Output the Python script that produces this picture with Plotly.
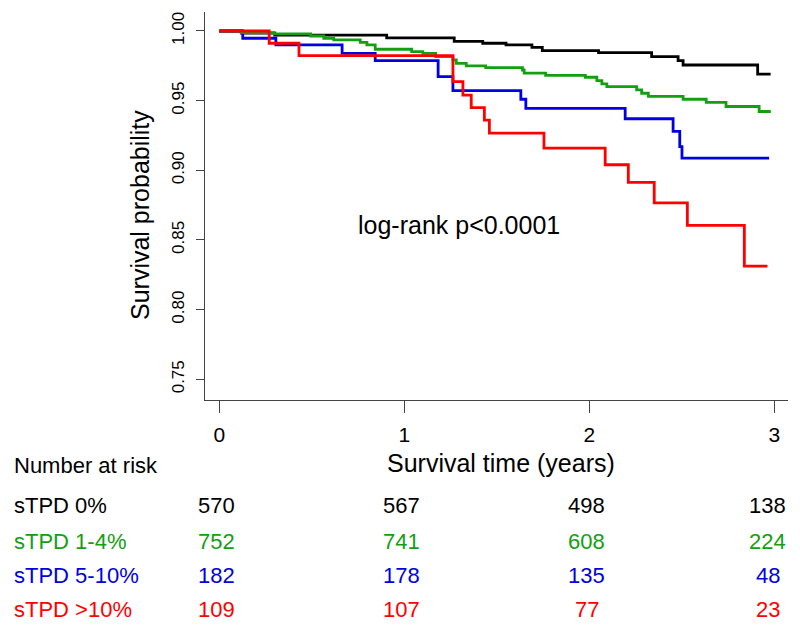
import plotly.graph_objects as go

# ---- data ----
groups = ["sTPD 0%", "sTPD 1-4%", "sTPD 5-10%", "sTPD >10%"]
colors = ["#000000", "#12a012", "#0000e0", "#ff0000"]

t_0 = [0, 0.12, 0.30, 0.905, 1.27, 1.424, 1.55, 1.69, 1.746, 2.05, 2.337, 2.48, 2.507, 2.91, 2.98]
s_0 = [1.0, 0.9985, 0.997, 0.995, 0.9925, 0.9912, 0.990, 0.9883, 0.9859, 0.9845, 0.9816, 0.9787, 0.9756, 0.969, 0.969]

t_1 = [0, 0.118, 0.297, 0.494, 0.565, 0.619, 0.762, 0.798, 0.843, 1.04, 1.10, 1.17, 1.263, 1.281, 1.335,
       1.44, 1.639, 1.648, 1.764, 1.979, 2.041, 2.068, 2.095, 2.256, 2.283, 2.319, 2.507, 2.632, 2.739, 2.918, 2.981]
s_1 = [1.0, 0.9988, 0.9979, 0.9964, 0.9948, 0.9936, 0.9919, 0.990, 0.9869, 0.9852, 0.984, 0.9816, 0.9792, 0.9768, 0.9749,
       0.9737, 0.972, 0.9697, 0.9682, 0.9668, 0.9644, 0.962, 0.960, 0.9577, 0.9553, 0.953, 0.951, 0.9487, 0.9458, 0.9422, 0.9422]

t_2 = [0, 0.127, 0.306, 0.664, 0.843, 1.183, 1.263, 1.63, 1.657, 2.194, 2.453, 2.489, 2.501, 2.972]
s_2 = [1.0, 0.9948, 0.990, 0.984, 0.9787, 0.9673, 0.9572, 0.951, 0.9444, 0.937, 0.9279, 0.917, 0.9088, 0.9088]

t_3 = [0, 0.27, 0.431, 1.263, 1.317, 1.362, 1.433, 1.46, 1.755, 2.086, 2.211, 2.351, 2.53, 2.838, 2.963]
s_3 = [1.0, 0.9912, 0.9823, 0.9637, 0.954, 0.945, 0.936, 0.9267, 0.916, 0.904, 0.8913, 0.8766, 0.8605, 0.8312, 0.8312]

risk_times = [0, 1, 2, 3]
risk_0 = [570, 567, 498, 138]
risk_1 = [752, 741, 608, 224]
risk_2 = [182, 178, 135, 48]
risk_3 = [109, 107, 77, 23]

x_ticks = [0, 1, 2, 3]
y_ticks = [0.75, 0.80, 0.85, 0.90, 0.95, 1.00]
y_ticktext = ["0.75", "0.80", "0.85", "0.90", "0.95", "1.00"]

# ---- figure ----
W, H = 800, 632
L, R, T, B = 205, 12, 12, 232
plot_w = W - L - R
plot_h = H - T - B
FONT = "Liberation Sans, Arial, sans-serif"

fig = go.Figure()
curves = [(t_0, s_0), (t_2, s_2), (t_1, s_1), (t_3, s_3)]
order = [0, 2, 1, 3]
for (tt, ss), gi in zip(curves, order):
    fig.add_trace(go.Scatter(x=tt, y=ss, mode="lines", line=dict(shape="hv", color=colors[gi], width=2.8),
                             name=groups[gi], showlegend=False, hoverinfo="skip"))

def ypaper(px):
    return (H - B - px) / plot_h

def xpaper(px):
    return (px - L) / plot_w

ann = []
ann.append(dict(text="log-rank p<0.0001", x=1.295, y=0.861, xref="x", yref="y", showarrow=False,
                xanchor="center", yanchor="middle", font=dict(size=25, color="black", family=FONT)))
ann.append(dict(text="Survival time (years)", x=xpaper(501), xref="paper", y=ypaper(463), yref="paper",
                xanchor="center", yanchor="middle", showarrow=False, font=dict(size=25, color="black", family=FONT)))
ann.append(dict(text="Survival probability", x=xpaper(140), xref="paper", y=ypaper(215), yref="paper",
                xanchor="center", yanchor="middle", textangle=-90, showarrow=False,
                font=dict(size=25, color="black", family=FONT)))
ann.append(dict(text="Number at risk", x=xpaper(12), xref="paper", xanchor="left", yanchor="middle",
                y=ypaper(465), yref="paper", showarrow=False, font=dict(size=22, color="black", family=FONT)))
row_y = [506, 541, 575, 609]
risks = [risk_0, risk_1, risk_2, risk_3]
for gi in range(4):
    ann.append(dict(text=groups[gi], x=xpaper(12), xref="paper", xanchor="left", yanchor="middle",
                    y=ypaper(row_y[gi]), yref="paper", showarrow=False,
                    font=dict(size=22, color=colors[gi], family=FONT)))
    for tv, n in zip(risk_times, risks[gi]):
        ann.append(dict(text=str(n), x=tv - (0.035 if tv == 3 else 0.015), xref="x", y=ypaper(row_y[gi]),
                        yref="paper", xanchor="center", yanchor="middle", showarrow=False,
                        font=dict(size=22, color=colors[gi], family=FONT)))

fig.update_layout(
    width=W, height=H, margin=dict(l=L, r=R, t=T, b=B, autoexpand=False),
    paper_bgcolor="white", plot_bgcolor="white",
    annotations=ann,
    xaxis=dict(range=[-0.077, 3.074], tickvals=x_ticks, ticktext=[str(v) for v in x_ticks], automargin=False,
               showline=True, linecolor="#444", linewidth=1, ticks="outside", ticklen=12, tickcolor="#444",
               showgrid=False, zeroline=False, tickfont=dict(size=21, family=FONT, color="black"),
               ticklabelstandoff=4),
    yaxis=dict(range=[0.73515, 1.01363], tickvals=y_ticks, ticktext=y_ticktext, tickangle=-90, automargin=False,
               showline=True, linecolor="#444", linewidth=1, ticks="outside", ticklen=8, tickcolor="#444",
               showgrid=False, zeroline=False, tickfont=dict(size=17, family=FONT, color="black"),
               ticklabelstandoff=5),
)

fig.write_html("out.html", config={"displayModeBar": False},
               post_script="document.body.style.margin='0';")
